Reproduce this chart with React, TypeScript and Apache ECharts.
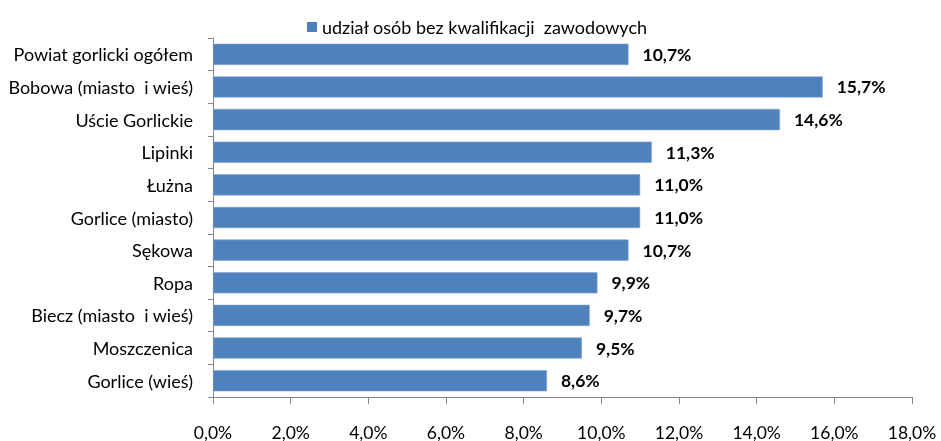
import React, { useEffect, useRef } from "react";
import * as echarts from "echarts";

const categories = [
  "Powiat gorlicki ogółem",
  "Bobowa (miasto  i wieś)",
  "Uście Gorlickie",
  "Lipinki",
  "Łużna",
  "Gorlice (miasto)",
  "Sękowa",
  "Ropa",
  "Biecz (miasto  i wieś)",
  "Moszczenica",
  "Gorlice (wieś)",
];
const values = [10.7, 15.7, 14.6, 11.3, 11.0, 11.0, 10.7, 9.9, 9.7, 9.5, 8.6];
const seriesName = "udział osób bez kwalifikacji  zawodowych";
const xMin = 0;
const xMax = 18;
const xStep = 2;

const FONT = "Lato";
const fmt = (v: number) => v.toFixed(1).replace(".", ",") + "%";

export default function App() {
  const ref = useRef<HTMLDivElement>(null);
  useEffect(() => {
    if (!ref.current) return;
    const chart = echarts.init(ref.current, undefined, { renderer: "svg" });
    chart.setOption({
      animation: false,
      textStyle: { fontFamily: FONT },
      legend: {
        left: 302,
        top: 13,
        icon: "rect",
        itemWidth: 10,
        itemHeight: 10,
        itemStyle: { borderWidth: 0 },
        textStyle: { fontFamily: FONT, fontSize: 18, color: "#000" },
        data: [seriesName],
      },
      grid: { left: 213, right: 29, top: 38, bottom: 43, containLabel: false },
      xAxis: {
        type: "value",
        min: xMin,
        max: xMax,
        interval: xStep,
        axisLine: { show: true, lineStyle: { color: "#868686" } },
        axisTick: { show: true, length: 7, lineStyle: { color: "#868686" } },
        splitLine: { show: false },
        axisLabel: {
          fontFamily: FONT,
          fontSize: 17.5,
          lineHeight: 16,
          color: "#000",
          margin: 27,
          formatter: (v: number) => fmt(v),
        },
      },
      yAxis: {
        type: "category",
        inverse: true,
        data: categories,
        axisLine: { show: true, lineStyle: { color: "#868686" } },
        axisTick: { show: true, length: 5, lineStyle: { color: "#868686" } },
        axisLabel: { fontFamily: FONT, fontSize: 18, color: "#000", margin: 20 },
      },
      series: [
        {
          name: seriesName,
          type: "bar",
          data: values,
          barCategoryGap: "35%",
          itemStyle: { color: "#4F81BD", borderColor: "#7FA3D3", borderWidth: 0.6 },
          label: {
            show: true,
            position: "right",
            distance: 14,
            fontFamily: FONT,
            fontSize: 17.5,
            fontWeight: "bold",
            color: "#000",
            formatter: (p: any) => fmt(p.value),
          },
        },
      ],
    });
    return () => chart.dispose();
  }, []);
  return (
    <div
      ref={ref}
      style={{ position: "fixed", left: 0, top: 0, width: 941, height: 441 }}
    />
  );
}
